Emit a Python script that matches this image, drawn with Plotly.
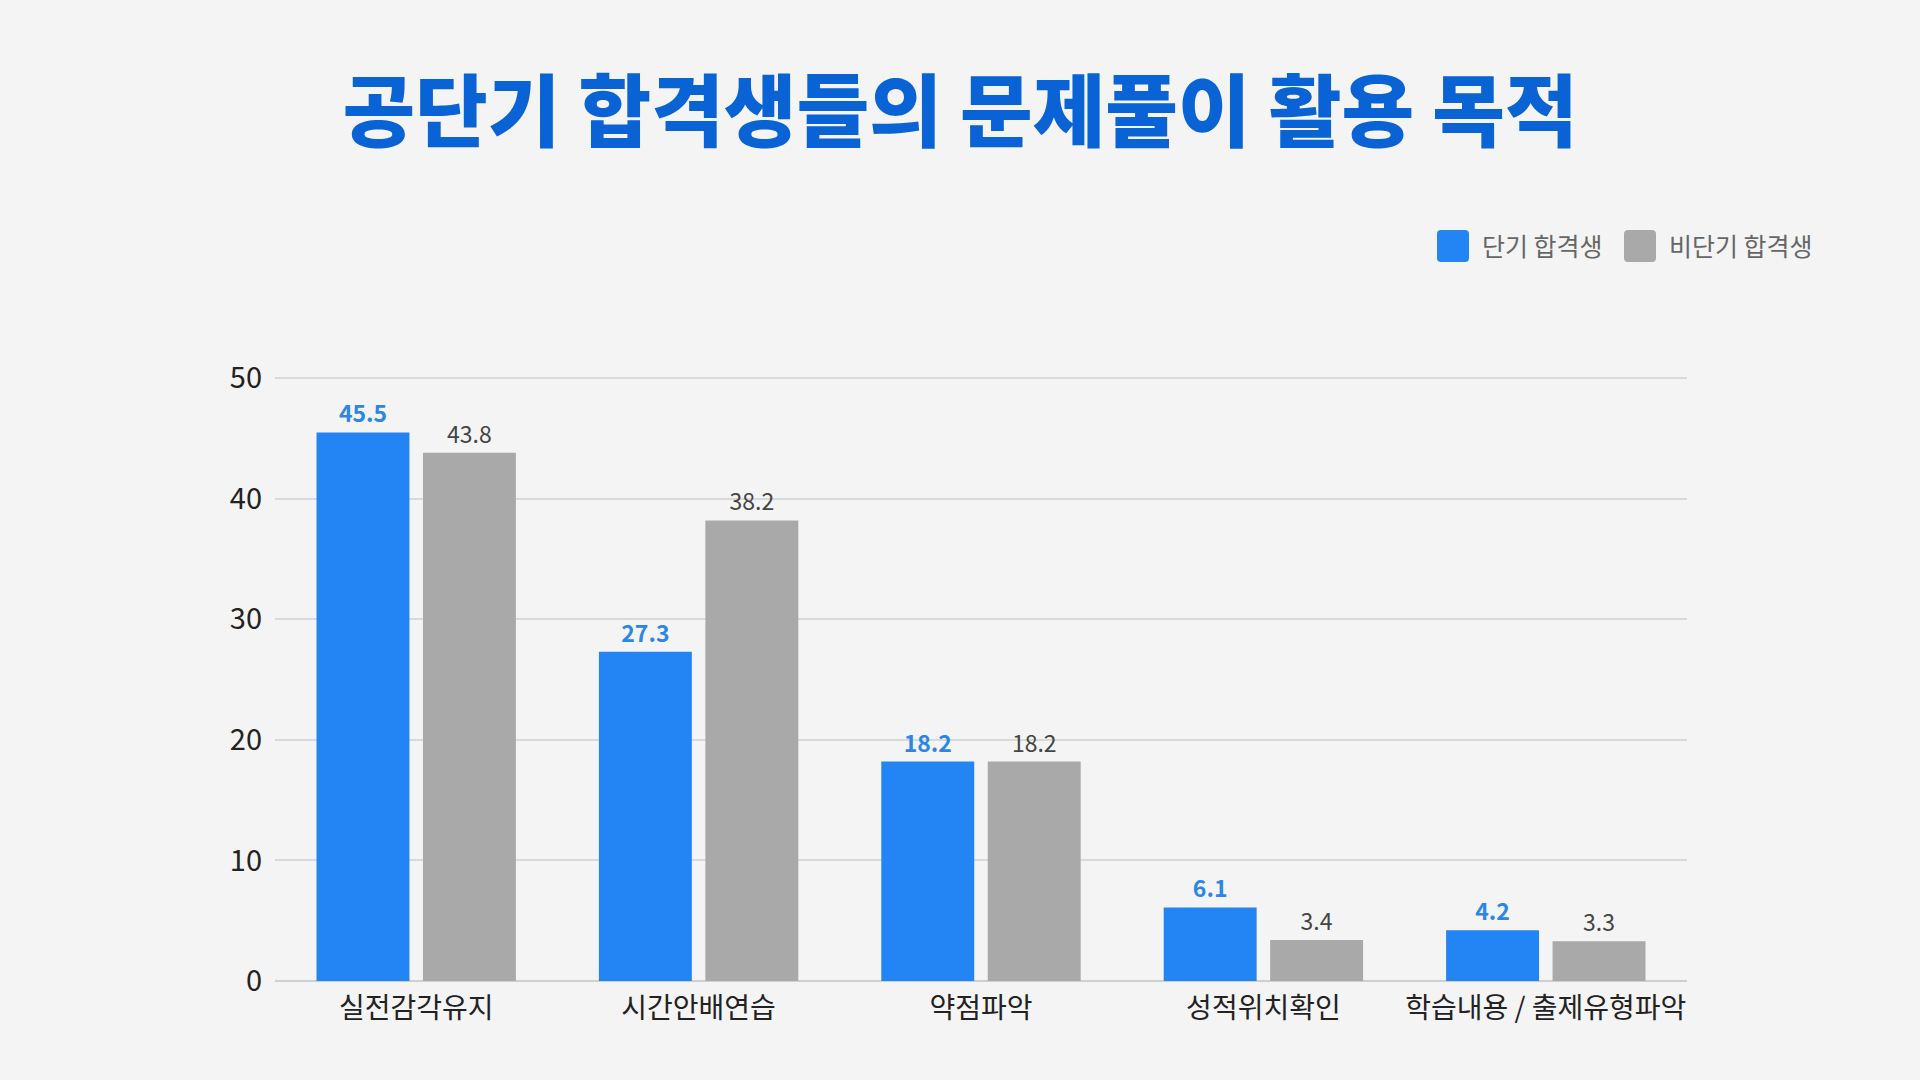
import plotly.graph_objects as go

categories = ["실전감각유지", "시간안배연습", "약점파악", "성적위치확인", "학습내용 / 출제유형파악"]
short_term = [45.5, 27.3, 18.2, 6.1, 4.2]
long_term = [43.8, 38.2, 18.2, 3.4, 3.3]
series_names = ["단기 합격생", "비단기 합격생"]
y_ticks = [0, 10, 20, 30, 40, 50]

W, H = 1920, 1080
L, R, T, B = 275, 233, 354, 99
PW, PH = W - L - R, H - T - B

BLUE = "#2285F3"
GRAY = "#A9A9A9"
FONT = "Noto Sans CJK KR"

def px_x(px):
    return (px - L) / PW

def px_y(py):
    return (H - B - py) / PH

fig = go.Figure()
fig.add_trace(go.Bar(
    x=categories, y=short_term, name=series_names[0],
    marker=dict(color=BLUE, line=dict(width=0)),
    text=[f"{v:.1f}" for v in short_term], textposition="outside",
    textfont=dict(family=FONT, size=23, color="#2B86E8", weight="bold"),
    cliponaxis=False,
))
fig.add_trace(go.Bar(
    x=categories, y=long_term, name=series_names[1],
    marker=dict(color=GRAY, line=dict(width=0)),
    text=[f"{v:.1f}" for v in long_term], textposition="outside",
    textfont=dict(family=FONT, size=23, color="#444444"),
    cliponaxis=False,
))

# manual legend
shapes = []
annotations = []
legend_items = [(1437, BLUE, series_names[0]), (1624, GRAY, series_names[1])]
for x0, col, name in legend_items:
    x1 = x0 + 32
    y0, y1 = 230, 262
    r = 4
    path = (f"M {px_x(x0 + r)} {px_y(y0)} L {px_x(x1 - r)} {px_y(y0)} "
            f"Q {px_x(x1)} {px_y(y0)} {px_x(x1)} {px_y(y0 + r)} "
            f"L {px_x(x1)} {px_y(y1 - r)} Q {px_x(x1)} {px_y(y1)} {px_x(x1 - r)} {px_y(y1)} "
            f"L {px_x(x0 + r)} {px_y(y1)} Q {px_x(x0)} {px_y(y1)} {px_x(x0)} {px_y(y1 - r)} "
            f"L {px_x(x0)} {px_y(y0 + r)} Q {px_x(x0)} {px_y(y0)} {px_x(x0 + r)} {px_y(y0)} Z")
    shapes.append(dict(type="path", path=path, xref="paper", yref="paper",
                       fillcolor=col, line=dict(width=0)))
    annotations.append(dict(text=name, x=px_x(x1 + 11), y=px_y(245), xref="paper", yref="paper",
                            xanchor="left", yanchor="middle", showarrow=False,
                            font=dict(family=FONT, size=25, color="#666666")))

fig.update_layout(
    width=W, height=H,
    margin=dict(l=L, r=R, t=T, b=B),
    paper_bgcolor="#F4F4F4", plot_bgcolor="#F4F4F4",
    barmode="group", bargap=0.246, bargroupgap=0.127,
    showlegend=False,
    title=dict(text="공단기 합격생들의 문제풀이 활용 목적", xref="container", x=0.5, xanchor="center",
               yref="container", y=1 - 113 / H, yanchor="middle",
               font=dict(family=FONT, size=79, color="#0A63D4", weight=900)),
    shapes=shapes, annotations=annotations,
    font=dict(family=FONT),
)
fig.update_xaxes(
    showgrid=False, showline=False, ticks="", ticklabelstandoff=8,
    tickfont=dict(family=FONT, size=28, color="#222222"),
)
fig.update_yaxes(
    range=[0, 52], tickvals=y_ticks, ticktext=[str(v) for v in y_ticks],
    showgrid=True, gridcolor="#D9D9D9", gridwidth=1.5,
    zeroline=True, zerolinecolor="#CFCFCF", zerolinewidth=1.5,
    showline=False, ticks="", ticklabelstandoff=12,
    tickfont=dict(family=FONT, size=29, color="#222222"),
)

fig.write_html("out.html", config={"displayModeBar": False},
               post_script="document.body.style.margin='0';document.body.style.background='#F4F4F4';")
